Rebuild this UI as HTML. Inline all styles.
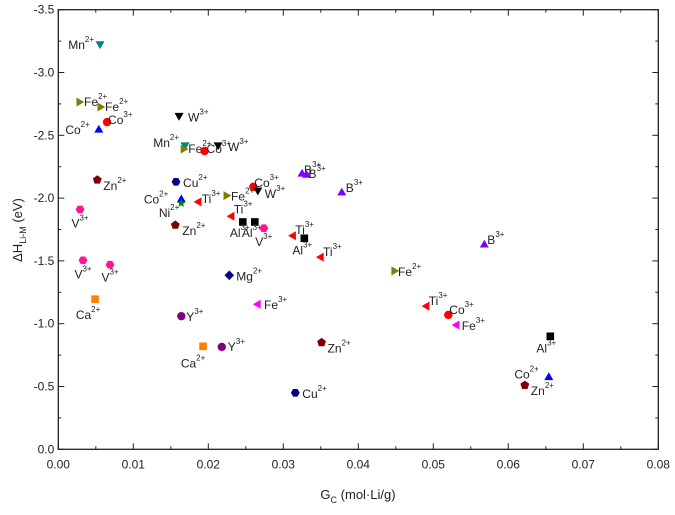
<!DOCTYPE html>
<html><head><meta charset="utf-8">
<style>
body{margin:0;background:#fff;}
svg{font-family:"Liberation Sans","DejaVu Sans",sans-serif;}
</style></head>
<body>
<svg id="chart" width="675" height="510" viewBox="0 0 675 510"></svg>
<script>
const ions = ["Mn","Fe","Fe","Co","Co","W","Mn","Fe","Co","W","Zn","Cu","Co","Ni","Ti","Fe","Co","W","B","B","Ti","Al","Al","V","Zn","V","Ti","Al","Ti","B","B","Fe","Ti","Co","Fe","Al","Co","Zn","V","V","Ca","Mg","Fe","Y","Ca","Y","Zn","Cu"];
const charges = ["2+","2+","2+","3+","2+","3+","2+","2+","3+","3+","2+","2+","2+","2+","3+","2+","3+","3+","3+","3+","3+","3+","3+","3+","2+","3+","3+","3+","3+","3+","3+","2+","3+","3+","3+","3+","2+","2+","3+","3+","2+","2+","3+","3+","2+","3+","2+","2+"];
const gcValues = [0.00556,0.0029,0.0057,0.0065,0.0054,0.0161,0.0169,0.0168,0.0195,0.0213,0.0052,0.0157,0.0164,0.0164,0.0186,0.0225,0.0260,0.0266,0.0325,0.0331,0.0230,0.0246,0.0262,0.0274,0.0156,0.0029,0.0312,0.0328,0.0349,0.0378,0.0568,0.0449,0.0490,0.0520,0.0530,0.0656,0.0654,0.0622,0.0033,0.0069,0.0049,0.0228,0.0265,0.0164,0.0193,0.0218,0.0351,0.0316];
const dhValues = [-3.22,-2.765,-2.725,-2.605,-2.55,-2.65,-2.415,-2.39,-2.375,-2.415,-2.145,-2.13,-1.995,-1.96,-1.97,-2.02,-2.09,-2.055,-2.2,-2.19,-1.855,-1.81,-1.81,-1.76,-1.785,-1.91,-1.70,-1.68,-1.53,-2.05,-1.635,-1.42,-1.14,-1.07,-0.99,-0.90,-0.58,-0.51,-1.505,-1.47,-1.195,-1.385,-1.155,-1.06,-0.82,-0.815,-0.85,-0.45];
const xTicks = [0,0.01,0.02,0.03,0.04,0.05,0.06,0.07,0.08];
const xTickLabels = ["0.00","0.01","0.02","0.03","0.04","0.05","0.06","0.07","0.08"];
const yTicks = [0,-0.5,-1,-1.5,-2,-2.5,-3,-3.5];
const yTickLabels = ["0.0","-0.5","-1.0","-1.5","-2.0","-2.5","-3.0","-3.5"];
// label layout (presentation only): dx, dy, anchor
const labelLayout = [[-6,4,"end"],[4,4,"start"],[4,4,"start"],[1,2,"start"],[-9,5,"end"],[9,5,"start"],[-6,1,"end"],[4,4,"start"],[2,2,"start"],[10,5,"start"],[6,10,"start"],[7,5,"start"],[-13,5,"end"],[-2,14,"end"],[4,1,"start"],[4,5,"start"],[1,0,"start"],[7,7,"start"],[2,1,"start"],[2,4,"start"],[3,-3,"start"],[-3,15,"middle"],[-3,15,"middle"],[0,18,"middle"],[7,10,"start"],[0,18,"middle"],[3,-2,"start"],[-2,16,"middle"],[3,-1,"start"],[4,0,"start"],[3,0,"start"],[3,5,"start"],[3,-1,"start"],[1,-1,"start"],[6,5,"start"],[-4,16,"middle"],[-10,2,"end"],[6,10,"start"],[0,18,"middle"],[0,17,"middle"],[-7,20,"middle"],[7,5,"start"],[7,5,"start"],[5,5,"start"],[-10,21,"middle"],[6,4,"start"],[6,10,"start"],[7,5,"start"]];

const NS="http://www.w3.org/2000/svg";
const svg=document.getElementById('chart');
const L=58.3,R=658.3,T=9.7,B=449.3;
const xS=v=>L+(v-0)/0.08*(R-L);
const yS=v=>B+(v/-3.5)*(T-B);
function mk(tag,attrs,parent){const e=document.createElementNS(NS,tag);for(const k in attrs)e.setAttribute(k,attrs[k]);(parent||svg).appendChild(e);return e;}

const frame=mk('rect',{x:L,y:T,width:R-L,height:B-T,fill:'none',stroke:'#222','stroke-width':1.3});



const axisG=mk('g',{});


// x ticks
for(let i=0;i<xTicks.length;i++){
  const x=xS(xTicks[i]);
  mk('line',{x1:x,y1:B,x2:x,y2:B-6,stroke:'#222'},axisG);
  mk('line',{x1:x,y1:T,x2:x,y2:T+6,stroke:'#222'},axisG);
  if(i<xTicks.length-1){const xm=xS(xTicks[i]+0.005);
    mk('line',{x1:xm,y1:B,x2:xm,y2:B-3,stroke:'#222'},axisG);
    mk('line',{x1:xm,y1:T,x2:xm,y2:T+3,stroke:'#222'},axisG);}
  const t=mk('text',{x:x,y:B+19,'text-anchor':'middle','font-size':12,fill:'#222'},axisG);
  t.textContent=xTickLabels[i];
  
  
}
for(let i=0;i<yTicks.length;i++){
  const y=yS(yTicks[i]);
  mk('line',{x1:L,y1:y,x2:L+6,y2:y,stroke:'#222'},axisG);
  mk('line',{x1:R,y1:y,x2:R-6,y2:y,stroke:'#222'},axisG);
  if(i<yTicks.length-1){const ym=yS(yTicks[i]-0.25);
    mk('line',{x1:L,y1:ym,x2:L+3,y2:ym,stroke:'#222'},axisG);
    mk('line',{x1:R,y1:ym,x2:R-3,y2:ym,stroke:'#222'},axisG);}
  const t=mk('text',{x:L-4,y:y+4,'text-anchor':'end','font-size':12,fill:'#222'},axisG);
  t.textContent=yTickLabels[i];
  
  
}
const xt=mk('text',{x:358,y:499,'text-anchor':'middle','font-size':13,fill:'#222'});
xt.innerHTML='G<tspan font-size="9" dy="4">C</tspan><tspan dy="-4"> (mol·Li/g)</tspan>';


const yt=mk('text',{x:0,y:0,'text-anchor':'middle','font-size':13,fill:'#222',transform:'translate(22,230) rotate(-90)'});
yt.innerHTML='ΔH<tspan font-size="9" dy="4">Li-M</tspan><tspan dy="-4"> (eV)</tspan>';



const styles={"Co3+":["circle","#ff0000"],"Co2+":["up","#0000ff"],"Fe2+":["right","#808000"],"Fe3+":["left","#ff00ff"],"Mn2+":["down","#008080"],"W3+":["down","#000000"],"Zn2+":["pent","#800000"],"Cu2+":["hex","#000080"],"Ni2+":["star","#008000"],"Ti3+":["left","#ff0000"],"B3+":["up","#8000ff"],"Al3+":["square","#000000"],"V3+":["hex","#ff1493"],"Ca2+":["square","#ff8000"],"Mg2+":["diamond","#000080"],"Y3+":["circle","#800080"]};
function poly(n,r,rot,cx,cy){let p=[];for(let k=0;k<n;k++){const a=rot+k*2*Math.PI/n;p.push((cx+r*Math.cos(a)).toFixed(1)+','+(cy+r*Math.sin(a)).toFixed(1));}return p.join(' ');}
const ptsG=mk('g',{});


for(let i=0;i<gcValues.length;i++){
  const cx=xS(gcValues[i]),cy=yS(dhValues[i]);
  const key=ions[i]+charges[i];const st=styles[key]||["circle","#000"];
  const c=st[1];let m;
  switch(st[0]){
    case 'circle':m=mk('circle',{cx:cx,cy:cy,r:4.2,fill:c},ptsG);break;
    case 'square':m=mk('rect',{x:cx-3.8,y:cy-3.8,width:7.6,height:7.6,fill:c},ptsG);break;
    case 'up':m=mk('polygon',{points:poly(3,5.2,-Math.PI/2,cx,cy+1),fill:c},ptsG);break;
    case 'down':m=mk('polygon',{points:poly(3,5.2,Math.PI/2,cx,cy-1),fill:c},ptsG);break;
    case 'left':m=mk('polygon',{points:poly(3,5.2,Math.PI,cx+1,cy),fill:c},ptsG);break;
    case 'right':m=mk('polygon',{points:poly(3,5.2,0,cx-1,cy),fill:c},ptsG);break;
    case 'pent':m=mk('polygon',{points:poly(5,4.6,-Math.PI/2,cx,cy),fill:c},ptsG);break;
    case 'hex':m=mk('polygon',{points:poly(6,4.4,0,cx,cy),fill:c},ptsG);break;
    case 'diamond':m=mk('polygon',{points:poly(4,4.8,0,cx,cy),fill:c},ptsG);break;
    case 'star':{let p=[];for(let k=0;k<10;k++){const a=-Math.PI/2+k*Math.PI/5,r=k%2?2:4.8;p.push((cx+r*Math.cos(a)).toFixed(1)+','+(cy+r*Math.sin(a)).toFixed(1));}m=mk('polygon',{points:p.join(' '),fill:c},ptsG);break;}
  }
  
  
  const lay=labelLayout[i];
  const t=mk('text',{x:cx+lay[0],y:cy+lay[1],'text-anchor':lay[2],'font-size':12,fill:'#222'},ptsG);
  t.innerHTML=ions[i]+'<tspan font-size="8" dy="-7">'+charges[i]+'</tspan>';
  
  
}
</script>
</body></html>
